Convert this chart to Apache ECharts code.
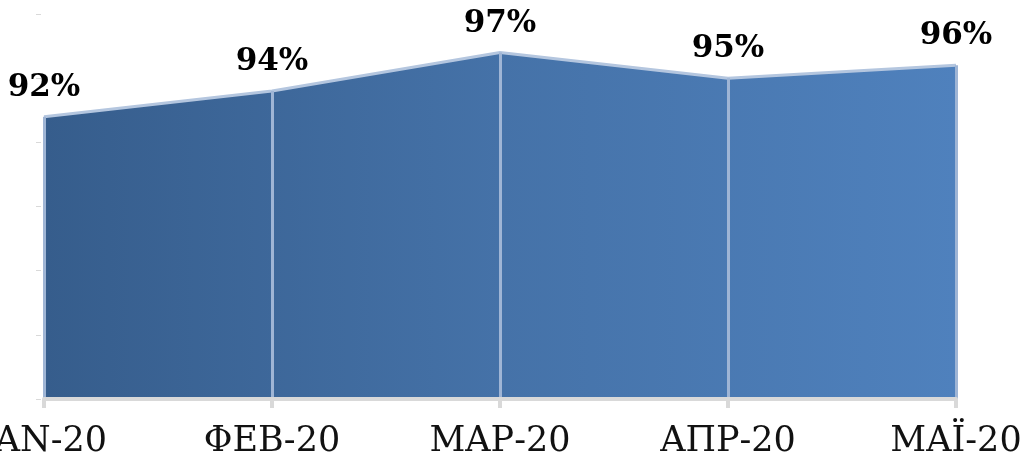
<!DOCTYPE html>
<html>
<head>
<meta charset="utf-8">
<script src="https://cdn.jsdelivr.net/npm/echarts@6/dist/echarts.min.js"></script>
<style>html,body{margin:0;padding:0;background:#fff}#c{width:1025px;height:462px}</style>
</head>
<body>
<div id="c"></div>
<script>
const categories = ['ΙΑΝ-20', 'ΦΕΒ-20', 'ΜΑΡ-20', 'ΑΠΡ-20', 'ΜΑΪ-20'];
const values = [92, 94, 97, 95, 96];
const yMin = 70, yMax = 100, yStep = 5;

const chart = echarts.init(document.getElementById('c'));
const dropLines = values.map((v, i) => [{ coord: [i, yMin] }, { coord: [i, v] }]);
chart.setOption({
  animation: false,
  grid: { left: 44, right: 69, top: 14, bottom: 63, outerBoundsMode: 'none', containLabel: false },
  xAxis: {
    type: 'category',
    data: categories,
    boundaryGap: false,
    z: 5,
    axisLine: { lineStyle: { color: '#d9d9d9', width: 4 } },
    axisTick: { show: true, length: 9, alignWithLabel: true, lineStyle: { color: '#d9d9d9', width: 4 } },
    axisLabel: { color: '#111', fontFamily: 'DejaVu Serif', fontSize: 35, margin: 25, hideOverlap: false },
    splitLine: { show: false }
  },
  yAxis: {
    type: 'value',
    min: yMin, max: yMax, interval: yStep,
    offset: 3,
    axisLine: { show: false },
    axisTick: { show: true, length: 5, lineStyle: { color: '#d9d9d9', width: 1 } },
    axisLabel: { show: false },
    splitLine: { show: false }
  },
  series: [{
    type: 'line',
    data: values,
    symbol: 'circle',
    symbolSize: 1,
    showSymbol: true,
    itemStyle: { color: 'rgba(0,0,0,0)', borderWidth: 0 },
    lineStyle: { color: '#b4c6df', width: 3 },
    areaStyle: {
      opacity: 1,
      color: new echarts.graphic.LinearGradient(0, 0, 1, 0, [
        { offset: 0, color: '#365d8c' },
        { offset: 0.5, color: '#4572a8' },
        { offset: 1, color: '#4f81bd' }
      ])
    },
    label: {
      show: true, position: 'top', distance: 13,
      formatter: p => p.value + '%',
      fontFamily: 'DejaVu Serif', fontWeight: 'bold', fontSize: 31, color: '#000'
    },
    markLine: {
      silent: true, symbol: 'none', label: { show: false },
      lineStyle: { color: '#9fb5d5', width: 3, type: 'solid' },
      data: dropLines
    }
  }]
});
</script>
</body>
</html>
